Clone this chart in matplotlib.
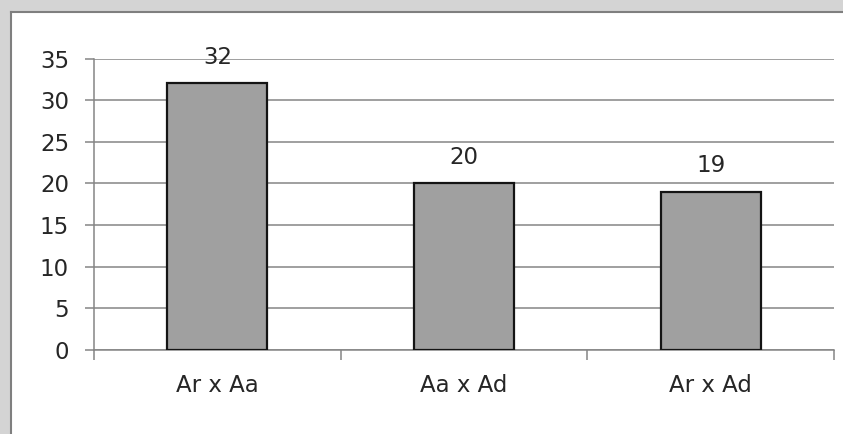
import matplotlib
matplotlib.use("Agg")
import matplotlib.pyplot as plt
from matplotlib.patches import Rectangle
from matplotlib.lines import Line2D

categories = ["Ar x Aa", "Aa x Ad", "Ar x Ad"]
values = [32, 20, 19]
yticks = [0, 5, 10, 15, 20, 25, 30, 35]

plt.rcParams['font.family'] = ['DejaVu Sans']

W, H = 843, 434
fig = plt.figure(figsize=(W/100, H/100), dpi=100, facecolor='#d4d4d4')

# white panel with darker top/left border
fig.patches.append(Rectangle((11/W, 0), 1 - 11/W, 1 - 12/H, transform=fig.transFigure,
                             facecolor='white', edgecolor='none', zorder=-10))
fig.lines.append(Line2D([11/W, 1], [1 - 12/H, 1 - 12/H], transform=fig.transFigure,
                        color='#7f7f7f', lw=1.5, zorder=-9))
fig.lines.append(Line2D([11/W, 11/W], [0, 1 - 12/H], transform=fig.transFigure,
                        color='#7f7f7f', lw=1.5, zorder=-9))

left, right, top, bottom = 94, 834, 58.5, 350
ax = fig.add_axes([left/W, 1 - bottom/H, (right-left)/W, (bottom-top)/H])
ax.set_zorder(5)
ax.set_facecolor('none')

FS = 16.5
TXT = '#262626'

x = list(range(len(categories)))
ax.bar(x, values, width=0.405, color='#a0a0a0', edgecolor='#141414', linewidth=1.6, zorder=3)
for xi, v in zip(x, values):
    ax.annotate(str(v), (xi, v), xytext=(0, 19), textcoords='offset points',
                ha='center', va='center', fontsize=FS, color=TXT)

ax.set_xlim(-0.5, len(categories) - 0.5)
ax.set_ylim(0, 35)
ax.set_yticks(yticks)
ax.set_yticklabels([str(t) for t in yticks])
ax.yaxis.grid(True, color='#858585', lw=1.1, zorder=0)
ax.set_axisbelow(True)
ax.set_xticks(x)
ax.set_xticklabels(categories)
ax.tick_params(axis='x', length=0, pad=17, labelsize=FS, colors=TXT)
ax.tick_params(axis='y', length=6.5, width=1.1, color='#858585', pad=11.5, labelsize=FS, labelcolor=TXT)
# minor ticks at category boundaries
ax.set_xticks([-0.5, 0.5, 1.5, 2.5], minor=True)
ax.tick_params(axis='x', which='minor', length=7, width=1.1, color='#858585', direction='out')

for s in ['top', 'right']:
    ax.spines[s].set_visible(False)
for s in ['left', 'bottom']:
    ax.spines[s].set_color('#858585')
    ax.spines[s].set_linewidth(1.1)

fig.savefig('out.png', dpi=100, facecolor=fig.get_facecolor())
